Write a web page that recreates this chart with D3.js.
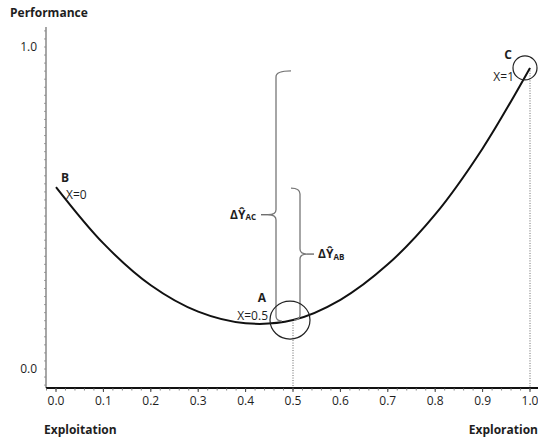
<!DOCTYPE html>
<html>
<head>
<meta charset="utf-8">
<script src="https://cdn.jsdelivr.net/npm/d3@7"></script>
<style>
  html, body { margin: 0; padding: 0; background: #fff; }
  svg text { font-family: "Open Sans", "Noto Sans", sans-serif; fill: #1e1e1e; }
</style>
</head>
<body>
<svg id="chart" width="538" height="441"></svg>
<script>
// ---- data ----
const xValues = [0.0, 0.1, 0.2, 0.3, 0.4, 0.5, 0.6, 0.7, 0.8, 0.9, 1.0];
const performance = [0.565, 0.39, 0.26, 0.178, 0.142, 0.152, 0.215, 0.325, 0.48, 0.685, 0.935];
const xTickValues = [0.0, 0.1, 0.2, 0.3, 0.4, 0.5, 0.6, 0.7, 0.8, 0.9, 1.0];
const yTickValues = [0.0, 1.0];
const pointNames = ["B", "A", "C"];
const pointX = [0.0, 0.5, 1.0];
const pointLabels = ["X=0", "X=0.5", "X=1"];
const yAxisTitle = "Performance";
const xLeftTitle = "Exploitation";
const xRightTitle = "Exploration";

// ---- layout ----
const svg = d3.select("#chart");
const x = d3.scaleLinear().domain([0, 1]).range([56, 530]);
const y = d3.scaleLinear().domain([0, 1]).range([369, 47]);
const axisY = 388, axisX = 46;

const curveData = xValues.map((v, i) => ({ x: v, y: performance[i] }));
const perfAt = v => performance[xValues.indexOf(v)];

// y axis
svg.append("line").attr("x1", axisX).attr("x2", axisX).attr("y1", 27).attr("y2", axisY)
  .attr("stroke", "#777").attr("stroke-width", 1.3);
const yMinor = d3.range(-0.05, 1.07, 0.025);
svg.append("g").selectAll("line").data(yMinor).join("line")
  .attr("x1", axisX - 2).attr("x2", axisX).attr("y1", d => y(d)).attr("y2", d => y(d))
  .attr("stroke", "#888").attr("stroke-width", 0.8);
svg.append("g").selectAll("text").data(yTickValues).join("text")
  .attr("x", 37).attr("y", d => y(d)).attr("dy", "0.35em").attr("text-anchor", "end")
  .attr("font-size", 12).text(d => d3.format(".1f")(d));

// x axis
svg.append("line").attr("x1", axisX).attr("x2", 538).attr("y1", axisY).attr("y2", axisY)
  .attr("stroke", "#111").attr("stroke-width", 2);
const xMinor = d3.range(-0.02, 1.02, 0.02);
svg.append("g").selectAll("line").data(xMinor).join("line")
  .attr("x1", d => x(d)).attr("x2", d => x(d)).attr("y1", axisY).attr("y2", axisY + 2.5)
  .attr("stroke", "#666").attr("stroke-width", 0.8);
svg.append("g").selectAll("line").data(xTickValues).join("line")
  .attr("x1", d => x(d)).attr("x2", d => x(d)).attr("y1", axisY).attr("y2", axisY + 4)
  .attr("stroke", "#444").attr("stroke-width", 1);
svg.append("g").selectAll("text").data(xTickValues).join("text")
  .attr("x", d => x(d)).attr("y", 405).attr("text-anchor", "middle")
  .attr("font-size", 12).text(d => d3.format(".1f")(d));

// titles
svg.append("text").attr("x", 10).attr("y", 17).attr("font-size", 12).attr("font-weight", "bold").text(yAxisTitle);
svg.append("text").attr("x", 44).attr("y", 434).attr("font-size", 12).attr("font-weight", "bold").text(xLeftTitle);
svg.append("text").attr("x", 538).attr("y", 434).attr("text-anchor", "end").attr("font-size", 12).attr("font-weight", "bold").text(xRightTitle);

// dotted verticals
[0.5, 1.0].forEach(v => {
  svg.append("line").attr("x1", x(v)).attr("x2", x(v)).attr("y1", y(perfAt(v))).attr("y2", axisY)
    .attr("stroke", "#555").attr("stroke-width", 0.9).attr("stroke-dasharray", "1,1.5");
});

// curve
const line = d3.line().x(d => x(d.x)).y(d => y(d.y)).curve(d3.curveCatmullRom.alpha(0.5));
svg.append("path").datum(curveData).attr("d", line)
  .attr("fill", "none").attr("stroke", "#111").attr("stroke-width", 2);

// brackets
const yA = y(perfAt(0.5)), yB = y(perfAt(0.0)), yC = y(perfAt(1.0));
function braceLeft(bx, y1, y2, midY, hookTop, hookBot, tip) {
  return `M${bx + hookTop},${y1} Q${bx},${y1} ${bx},${y1 + 6}` +
    ` L${bx},${midY - 5} Q${bx},${midY} ${bx - tip},${midY} Q${bx},${midY} ${bx},${midY + 5}` +
    ` L${bx},${y2 - 5} Q${bx},${y2} ${bx + hookBot},${y2}`;
}
function braceRight(bx, y1, y2, midY, hookTop, hookBot, tip) {
  return `M${bx - hookTop},${y1} Q${bx},${y1} ${bx},${y1 + 6}` +
    ` L${bx},${midY - 5} Q${bx},${midY} ${bx + tip},${midY} Q${bx},${midY} ${bx},${midY + 5}` +
    ` L${bx},${y2 - 5} Q${bx},${y2} ${bx - hookBot},${y2}`;
}
const bigTop = yC + 3, bigBot = yA + 1;
const bigMid = bigTop + 0.575 * (bigBot - bigTop);
svg.append("path").attr("d", braceLeft(276, bigTop, bigBot, bigMid, 15, 6, 8))
  .attr("fill", "none").attr("stroke", "#777").attr("stroke-width", 1.3);
svg.append("line").attr("x1", 261).attr("x2", 268).attr("y1", bigMid).attr("y2", bigMid)
  .attr("stroke", "#555").attr("stroke-width", 1.2);
const smTop = yB + 1, smBot = yA;
const smMid = (smTop + smBot) / 2;
svg.append("path").attr("d", braceRight(300, smTop, smBot, smMid, 9, 6, 7))
  .attr("fill", "none").attr("stroke", "#777").attr("stroke-width", 1.3);
svg.append("line").attr("x1", 307).attr("x2", 314).attr("y1", smMid).attr("y2", smMid)
  .attr("stroke", "#555").attr("stroke-width", 1.2);

// bracket labels
const lab1 = svg.append("text").attr("x", 256).attr("y", bigMid + 4).attr("text-anchor", "end")
  .attr("font-size", 12).attr("font-weight", "bold");
lab1.append("tspan").text("ΔŶ");
lab1.append("tspan").attr("font-size", 8).attr("dy", 1.5).text("AC");
const lab2 = svg.append("text").attr("x", 318).attr("y", smMid + 4)
  .attr("font-size", 12).attr("font-weight", "bold");
lab2.append("tspan").text("ΔŶ");
lab2.append("tspan").attr("font-size", 8).attr("dy", 1.5).text("AB");

// circles
svg.append("ellipse").attr("cx", x(0.5) - 3).attr("cy", yA).attr("rx", 20).attr("ry", 19)
  .attr("fill", "none").attr("stroke", "#222").attr("stroke-width", 1.2);
svg.append("circle").attr("cx", x(1.0) - 5).attr("cy", yC).attr("r", 12)
  .attr("fill", "none").attr("stroke", "#222").attr("stroke-width", 1.2);

// point labels
const nameX = [61, 266, 512];
const nameY = [182, 302, 59];
const labX = [66, 268, 514];
const labY = [199, 320, 81];
const labAnchor = ["start", "end", "end"];
pointNames.forEach((n, i) => {
  svg.append("text").attr("x", nameX[i]).attr("y", nameY[i]).attr("text-anchor", i === 0 ? "start" : "end")
    .attr("font-size", 12).attr("font-weight", "bold").text(n);
  svg.append("text").attr("x", labX[i]).attr("y", labY[i]).attr("text-anchor", labAnchor[i])
    .attr("font-size", 12).text(pointLabels[i]);
});
</script>
</body>
</html>
